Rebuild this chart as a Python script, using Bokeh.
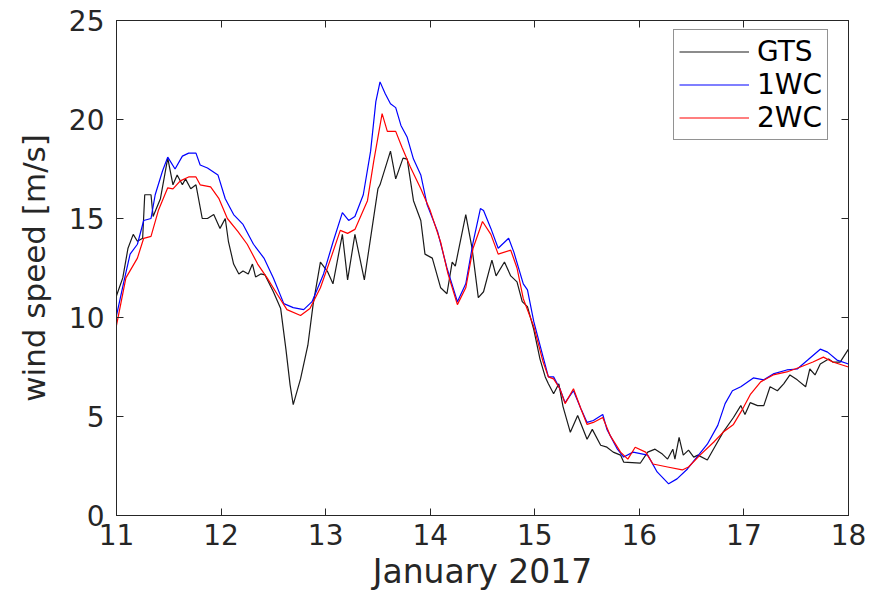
from bokeh.plotting import figure
from bokeh.models import LinearAxis, FixedTicker, Legend, LegendItem, Range1d
from bokeh.embed import file_html
from bokeh.resources import INLINE

# ---- data (day of January 2017, wind speed m/s) ----
gts_t = [11.00, 11.06, 11.11, 11.16, 11.20, 11.25, 11.27, 11.33, 11.35, 11.42, 11.49, 11.54, 11.58,
         11.63, 11.66, 11.71, 11.76, 11.82, 11.87, 11.93, 11.99, 12.04, 12.07, 12.12, 12.17, 12.21,
         12.26, 12.30, 12.33, 12.38, 12.42, 12.50, 12.57, 12.62, 12.66, 12.69, 12.76, 12.83, 12.88,
         12.95, 13.02, 13.07, 13.16, 13.21, 13.28, 13.37, 13.50, 13.52, 13.62, 13.67, 13.74, 13.78,
         13.84, 13.91, 13.95, 14.02, 14.10, 14.16, 14.21, 14.24, 14.34, 14.40, 14.46, 14.51, 14.59,
         14.63, 14.71, 14.77, 14.83, 14.88, 14.93, 14.99, 15.05, 15.10, 15.13, 15.18, 15.23, 15.27,
         15.34, 15.41, 15.50, 15.55, 15.63, 15.69, 15.75, 15.82, 15.85, 16.01, 16.08, 16.15, 16.22,
         16.27, 16.32, 16.34, 16.38, 16.42, 16.47, 16.52, 16.56, 16.65, 16.73, 16.80, 16.90, 16.97,
         17.01, 17.06, 17.13, 17.19, 17.25, 17.32, 17.38, 17.44, 17.51, 17.59, 17.63, 17.68, 17.73,
         17.81, 17.85, 17.92, 18.00]
gts_v = [11.1, 12.0, 13.5, 14.2, 13.85, 14.0, 16.2, 16.2, 15.1, 16.0, 18.05, 16.7, 17.2,
         16.7, 17.0, 16.5, 16.7, 15.0, 15.0, 15.2, 14.5, 15.0, 13.85, 12.7, 12.2, 12.35,
         12.2, 12.7, 12.05, 12.2, 12.15, 11.3, 10.45, 8.4, 6.6, 5.6, 6.9, 8.6, 10.65,
         12.8, 12.3, 11.7, 14.2, 11.9, 14.2, 11.9, 16.5, 16.7, 18.4, 17.0, 18.05, 18.0,
         15.9, 14.9, 13.2, 13.0, 11.5, 11.2, 12.8, 12.6, 15.2, 13.5, 11.0, 11.3, 12.9,
         12.1, 12.8, 12.1, 11.8, 10.8, 10.55, 9.4, 7.9, 7.0, 6.65, 6.15, 6.65, 5.5,
         4.2, 5.05, 3.85, 4.35, 3.55, 3.45, 3.2, 3.05, 2.7, 2.65, 3.2, 3.35, 3.1,
         2.85, 3.35, 2.85, 3.95, 3.05, 3.3, 2.95, 3.05, 2.8, 3.55, 4.2, 4.95, 5.55,
         5.1, 5.7, 5.55, 5.55, 6.5, 6.3, 6.65, 7.1, 6.85, 6.5, 7.4, 7.1, 7.65,
         7.9, 7.75, 7.75, 8.4]

wc1_t = [11.00, 11.07, 11.13, 11.20, 11.26, 11.33, 11.37, 11.44, 11.49, 11.56, 11.63, 11.69, 11.76,
         11.80, 11.87, 11.97, 12.04, 12.12, 12.21, 12.31, 12.41, 12.50, 12.60, 12.69, 12.79, 12.87,
         12.98, 13.07, 13.16, 13.22, 13.28, 13.36, 13.43, 13.48, 13.52, 13.57, 13.62, 13.67, 13.72,
         13.78, 13.84, 13.91, 13.97, 14.07, 14.16, 14.26, 14.34, 14.41, 14.48, 14.51, 14.58, 14.65,
         14.75, 14.80, 14.89, 14.93, 14.99, 15.08, 15.13, 15.18, 15.24, 15.29, 15.37, 15.44, 15.50,
         15.56, 15.65, 15.69, 15.79, 15.85, 15.94, 16.08, 16.17, 16.28, 16.36, 16.46, 16.55, 16.65,
         16.75, 16.82, 16.89, 16.97, 17.09, 17.19, 17.28, 17.41, 17.51, 17.61, 17.73, 17.80, 17.89,
         18.00]
wc1_v = [10.1, 11.8, 13.2, 13.7, 14.9, 15.0, 16.2, 17.4, 18.1, 17.5, 18.15, 18.3, 18.3,
         17.7, 17.55, 17.2, 16.0, 15.2, 14.7, 13.7, 13.0, 12.0, 10.7, 10.5, 10.4, 10.8,
         12.2, 13.8, 15.3, 14.9, 15.1, 16.2, 18.4, 20.9, 21.9, 21.3, 20.8, 20.6, 19.7,
         19.1, 18.0, 17.2, 15.7, 14.35, 12.5, 10.8, 11.7, 13.8, 15.5, 15.4, 14.5, 13.5,
         14.0, 13.3, 11.7, 11.4, 9.8, 8.0, 7.0, 7.0, 6.4, 5.7, 6.3, 5.4, 4.7,
         4.8, 5.1, 4.35, 3.35, 2.95, 3.2, 3.05, 2.2, 1.6, 1.85, 2.35, 2.95, 3.6,
         4.55, 5.65, 6.3, 6.5, 6.95, 6.85, 7.15, 7.35, 7.4, 7.85, 8.4, 8.25, 7.85,
         7.65]

wc2_t = [11.00, 11.09, 11.20, 11.26, 11.33, 11.40, 11.49, 11.54, 11.61, 11.69, 11.76, 11.80, 11.90,
         11.98, 12.06, 12.16, 12.25, 12.35, 12.44, 12.54, 12.63, 12.76, 12.85, 12.95, 13.05, 13.14,
         13.21, 13.28, 13.40, 13.46, 13.50, 13.54, 13.59, 13.67, 13.73, 13.81, 13.91, 14.00, 14.10,
         14.17, 14.26, 14.34, 14.41, 14.50, 14.58, 14.65, 14.77, 14.83, 14.89, 14.99, 15.08, 15.13,
         15.18, 15.24, 15.29, 15.37, 15.44, 15.50, 15.56, 15.65, 15.72, 15.82, 15.89, 15.96, 16.06,
         16.13, 16.27, 16.41, 16.47, 16.58, 16.71, 16.80, 16.90, 16.99, 17.06, 17.16, 17.28, 17.41,
         17.54, 17.66, 17.76, 17.85, 18.00]
wc2_v = [9.6, 12.0, 13.0, 14.0, 14.1, 15.4, 16.55, 16.5, 16.9, 17.1, 17.1, 16.7, 16.6,
         16.0, 15.0, 14.35, 13.7, 12.7, 12.0, 11.15, 10.4, 10.1, 10.45, 11.5, 13.0, 14.4,
         14.25, 14.45, 15.9, 17.9, 19.1, 20.3, 19.4, 19.4, 18.6, 17.6, 16.5, 15.4, 13.8,
         12.2, 10.65, 11.5, 13.5, 14.85, 14.2, 13.2, 13.4, 12.5, 10.95, 9.55, 7.75, 7.0,
         6.9, 6.4, 5.65, 6.4, 5.4, 4.6, 4.7, 4.95, 4.05, 3.2, 2.85, 3.45, 3.2,
         2.6, 2.45, 2.3, 2.45, 3.05, 3.7, 4.2, 4.6, 5.4, 6.1, 6.75, 7.1, 7.25,
         7.5, 7.75, 8.0, 7.75, 7.5]

x_ticks = [11, 12, 13, 14, 15, 16, 17, 18]
y_ticks = [0, 5, 10, 15, 20, 25]

AX = "#262626"
FONT = "DejaVu Sans"

p = figure(width=879, height=593, output_backend="svg", toolbar_location=None,
           x_range=Range1d(11, 18), y_range=Range1d(0, 25),
           min_border_left=116, min_border_right=31, min_border_top=20, min_border_bottom=78)
p.background_fill_color = "white"
p.border_fill_color = "white"
p.outline_line_color = AX
p.outline_line_width = 1
p.grid.visible = False

l_gts = p.line(gts_t, gts_v, line_color="#1a1a1a", line_width=1.2)
l_1 = p.line(wc1_t, wc1_v, line_color="#0000ff", line_width=1.2)
l_2 = p.line(wc2_t, wc2_v, line_color="#ff0000", line_width=1.2)

for ax in (p.xaxis[0], p.yaxis[0]):
    ax.axis_line_color = AX
    ax.major_tick_line_color = AX
    ax.major_tick_in = 7
    ax.major_tick_out = 0
    ax.minor_tick_line_color = None
    ax.major_label_text_font = FONT
    ax.major_label_text_font_size = "28px"
    ax.major_label_text_color = AX
    ax.axis_label_text_font = FONT
    ax.axis_label_text_color = AX
    ax.axis_label_text_font_style = "normal"

p.xaxis[0].axis_label_text_font_size = "33px"
p.yaxis[0].axis_label_text_font_size = "31px"
p.xaxis[0].ticker = FixedTicker(ticks=x_ticks)
p.yaxis[0].ticker = FixedTicker(ticks=y_ticks)
p.xaxis[0].axis_label = "January 2017"
p.yaxis[0].axis_label = "wind speed [m/s]"
p.xaxis[0].major_label_standoff = 8
p.yaxis[0].major_label_standoff = 12
p.xaxis[0].axis_label_standoff = 4
p.yaxis[0].axis_label_standoff = 14

top = LinearAxis(ticker=FixedTicker(ticks=x_ticks),
                 major_label_overrides={t: "" for t in x_ticks},
                 major_tick_in=7, major_tick_out=0, minor_tick_line_color=None,
                 axis_line_color=AX, major_tick_line_color=AX, major_label_standoff=0)
right = LinearAxis(ticker=FixedTicker(ticks=y_ticks),
                   major_label_overrides={t: "" for t in y_ticks},
                   major_tick_in=7, major_tick_out=0, minor_tick_line_color=None,
                   axis_line_color=AX, major_tick_line_color=AX, major_label_standoff=0)
p.add_layout(top, "above")
p.add_layout(right, "right")

legend = Legend(items=[LegendItem(label="GTS", renderers=[l_gts]),
                       LegendItem(label="1WC", renderers=[l_1]),
                       LegendItem(label="2WC", renderers=[l_2])],
                location=(557, 375))
legend.label_text_font = FONT
legend.label_text_font_size = "28px"
legend.label_text_color = "#000000"
legend.border_line_color = AX
legend.border_line_width = 1
legend.glyph_width = 70
legend.glyph_height = 31
legend.label_height = 31
legend.spacing = 0
legend.padding = 5
legend.margin = 0
legend.label_standoff = 8
legend.background_fill_alpha = 1.0
p.add_layout(legend, "center")

open("out.html", "w").write(file_html(p, INLINE))
